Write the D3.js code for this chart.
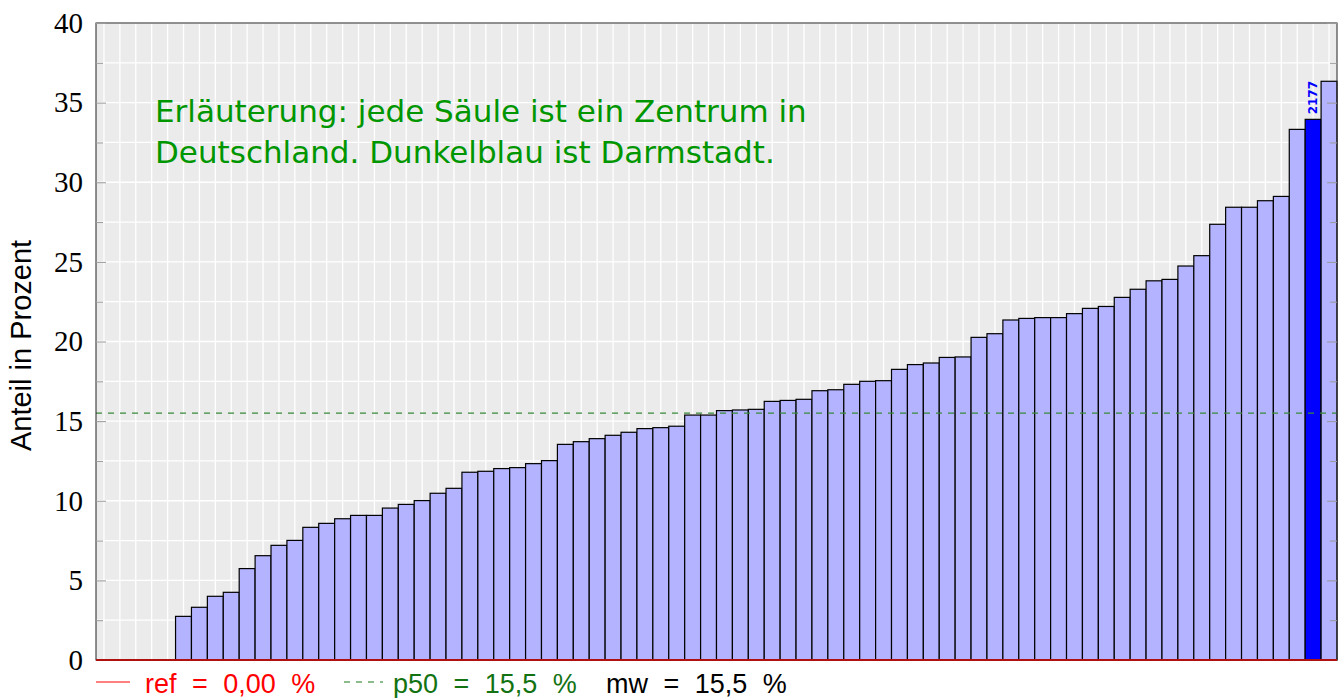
<!DOCTYPE html>
<html>
<head>
<meta charset="utf-8">
<script src="https://cdn.jsdelivr.net/npm/d3@7"></script>
<style>
  body { margin: 0; background: #fff; }
  svg { display: block; }
</style>
</head>
<body>
<script>
// share per centre, sorted ascending; the first five centres are 0
var values = [0, 0, 0, 0, 0,
  2.74, 3.31, 4.0, 4.25, 5.74, 6.55, 7.2, 7.51, 8.33, 8.58,
  8.87, 9.08, 9.08, 9.54, 9.77, 10.01, 10.47, 10.78, 11.79, 11.85,
  12.02, 12.08, 12.33, 12.52, 13.54, 13.71, 13.9, 14.11, 14.3, 14.53,
  14.59, 14.68, 15.38, 15.38, 15.66, 15.7, 15.74, 16.24, 16.3, 16.37,
  16.91, 16.97, 17.31, 17.5, 17.54, 18.25, 18.55, 18.65, 19.0, 19.03,
  20.26, 20.49, 21.35, 21.45, 21.5, 21.5, 21.75, 22.08, 22.2, 22.77,
  23.28, 23.81, 23.9, 24.74, 25.39, 27.36, 28.43, 28.43, 28.84, 29.11,
  33.32, 33.95, 36.34];
var highlightIndex = 76;       // Darmstadt
var highlightLabel = "2177";
var refValue = 0;
var p50Value = 15.5;
var yTicks = [0, 5, 10, 15, 20, 25, 30, 35, 40];
var yMinorTicks = [2.5, 7.5, 12.5, 17.5, 22.5, 27.5, 32.5, 37.5];
var legendItems = ["ref = 0,00 %", "p50 = 15,5 %", "mw = 15,5 %"];
var noteLines = ["Erläuterung: jede Säule ist ein Zentrum in", "Deutschland. Dunkelblau ist Darmstadt."];

var W = 1341, H = 698;
var margin = {top: 23, right: 4, bottom: 38, left: 96},
    width = W - margin.left - margin.right,
    height = H - margin.top - margin.bottom;

var svg = d3.select("body").append("svg")
    .attr("width", W)
    .attr("height", H);

var g = svg.append("g")
    .attr("transform", "translate(" + margin.left + "," + margin.top + ")");

var x = d3.scaleBand().domain(d3.range(values.length)).range([0, width]).padding(0);
var y = d3.scaleLinear().domain([0, 40]).range([height, 0]);

// background
g.append("rect")
    .attr("width", width)
    .attr("height", height)
    .attr("fill", "#ebebeb");

// grid
g.append("g").selectAll("line")
    .data(yTicks.concat(yMinorTicks))
    .enter().append("line")
    .attr("x1", 0).attr("x2", width)
    .attr("y1", function(d) { return y(d); })
    .attr("y2", function(d) { return y(d); })
    .attr("stroke", "#fff")
    .attr("stroke-width", 1.3);

g.append("g").selectAll("line")
    .data(d3.range(values.length))
    .enter().append("line")
    .attr("x1", function(d) { return x(d) + x.bandwidth() / 2; })
    .attr("x2", function(d) { return x(d) + x.bandwidth() / 2; })
    .attr("y1", 0).attr("y2", height)
    .attr("stroke", "#fff")
    .attr("stroke-width", 1.3);

// bars
g.append("g").selectAll("rect")
    .data(values.map(function(v, i) { return {i: i, v: v}; }).filter(function(d) { return d.v > 0; }))
    .enter().append("rect")
    .attr("x", function(d) { return x(d.i); })
    .attr("y", function(d) { return y(d.v); })
    .attr("width", x.bandwidth())
    .attr("height", function(d) { return height - y(d.v); })
    .attr("fill", function(d) { return d.i == highlightIndex ? "#0000ff" : "#b3b3ff"; })
    .attr("stroke", "#000")
    .attr("stroke-width", 1.2);

// label on Darmstadt
g.append("text")
    .attr("transform", "translate(" + (x(highlightIndex) + x.bandwidth() / 2 + 4) + "," + (y(values[highlightIndex]) - 5) + ") rotate(-90)")
    .attr("font-family", "DejaVu Sans, sans-serif")
    .attr("font-weight", "bold")
    .attr("font-size", 12)
    .attr("fill", "#0000ff")
    .text(highlightLabel);

// p50 line
g.append("line")
    .attr("x1", 0).attr("x2", width)
    .attr("y1", y(p50Value)).attr("y2", y(p50Value))
    .attr("stroke", "#3a8a3a")
    .attr("stroke-width", 1.2)
    .attr("stroke-dasharray", "6,6");

// frame
g.append("rect")
    .attr("width", width)
    .attr("height", height)
    .attr("fill", "none")
    .attr("stroke", "#222")
    .attr("stroke-width", 1);

// y axis, labels and ticks inside
var yAxis = g.append("g")
    .call(d3.axisLeft(y).tickValues(yTicks).tickSize(-10).tickPadding(13));
yAxis.select(".domain").remove();
yAxis.selectAll("line").attr("stroke", "#999");
yAxis.selectAll("text")
    .attr("font-family", "Liberation Serif, serif")
    .attr("font-size", 29)
    .attr("fill", "#000");

var yMinor = g.append("g")
    .call(d3.axisLeft(y).tickValues(yMinorTicks).tickSize(-7).tickFormat(""));
yMinor.select(".domain").remove();
yMinor.selectAll("line").attr("stroke", "#999");

var yRight = g.append("g")
    .attr("transform", "translate(" + width + ",0)")
    .call(d3.axisRight(y).tickValues(yTicks).tickSize(-10).tickFormat(""));
yRight.select(".domain").remove();
yRight.selectAll("line").attr("stroke", "#999");

var yRightMinor = g.append("g")
    .attr("transform", "translate(" + width + ",0)")
    .call(d3.axisRight(y).tickValues(yMinorTicks).tickSize(-7).tickFormat(""));
yRightMinor.select(".domain").remove();
yRightMinor.selectAll("line").attr("stroke", "#999");

// ref line (on top of axis ticks)
g.append("line")
    .attr("x1", 0).attr("x2", width)
    .attr("y1", y(refValue)).attr("y2", y(refValue))
    .attr("stroke", "#b01010")
    .attr("stroke-width", 2);

// y title
svg.append("text")
    .attr("transform", "translate(31," + (margin.top + height / 2 + 4) + ") rotate(-90)")
    .attr("text-anchor", "middle")
    .attr("font-family", "Liberation Sans, sans-serif")
    .attr("font-size", 29)
    .text("Anteil in Prozent");

// note
var note = svg.append("text")
    .attr("font-family", "DejaVu Sans, sans-serif")
    .attr("font-size", 31)
    .attr("fill", "#009600");
noteLines.forEach(function(l, i) {
    note.append("tspan").attr("x", 155).attr("y", 122 + i * 41).text(l);
});

// legend
var lg = svg.append("g")
    .attr("font-family", "Liberation Sans, sans-serif")
    .attr("font-size", 27)
    .attr("word-spacing", 8);
lg.append("line").attr("x1", 96).attr("x2", 130).attr("y1", 682).attr("y2", 682)
    .attr("stroke", "#ff0000").attr("stroke-width", 1.2);
lg.append("text").attr("x", 145).attr("y", 693).attr("fill", "#ff0000").text(legendItems[0]);
lg.append("line").attr("x1", 344).attr("x2", 383).attr("y1", 682).attr("y2", 682)
    .attr("stroke", "#1a7a1a").attr("stroke-width", 1.2).attr("stroke-dasharray", "6,6");
lg.append("text").attr("x", 393).attr("y", 693).attr("fill", "#137313").text(legendItems[1]);
lg.append("text").attr("x", 606).attr("y", 693).attr("fill", "#000").text(legendItems[2]);
</script>
</body>
</html>
